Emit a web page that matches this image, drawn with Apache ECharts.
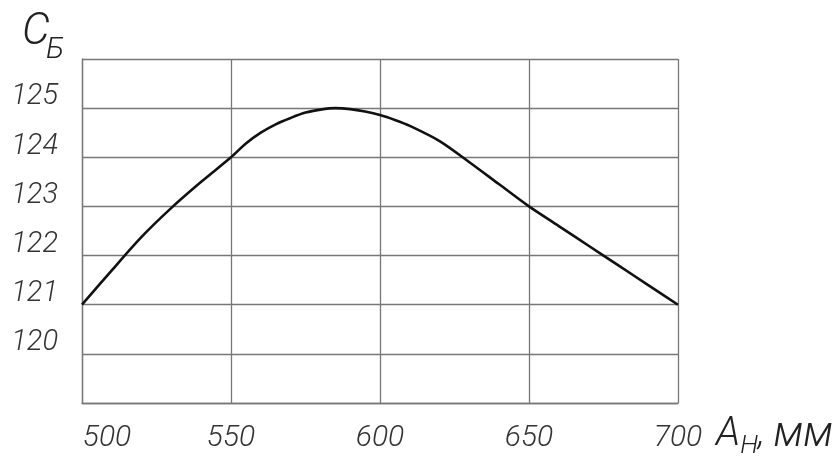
<!DOCTYPE html>
<html>
<head>
<meta charset="utf-8">
<script src="https://cdn.jsdelivr.net/npm/echarts@6/dist/echarts.min.js"></script>
<style>
html,body{margin:0;padding:0;background:#fff;}
#chart{width:832px;height:461px;}
</style>
</head>
<body>
<div id="chart"></div>
<script>
// Data
var xValues = [500,510,520,530,540,550,555,560,565,570,575,580,585,590,595,600,605,610,620,630,640,650,660,670,680,690,700];
var yValues = [121,121.7,122.38,122.97,123.5,124.0,124.28,124.5,124.67,124.8,124.91,124.97,125,124.98,124.93,124.86,124.76,124.64,124.33,123.9,123.45,123.0,122.6,122.2,121.8,121.4,121.0];
var xTicks = [500,550,600,650,700];
var yTicks = [120,121,122,123,124,125];

var FONT = 'Roboto';
var FW = 300;
var chart = echarts.init(document.getElementById('chart'), null, {renderer:'canvas'});
var seriesData = xValues.map(function(x,i){return [x, yValues[i]];});

chart.setOption({
  backgroundColor:'#fff',
  animation:false,
  title:[
    {left:17, top:6, text:'C',
     textStyle:{fontFamily:FONT,fontStyle:'italic',fontWeight:FW,fontSize:44,color:'#222'}},
    {left:41, top:30, text:'Б',
     textStyle:{fontFamily:FONT,fontStyle:'italic',fontWeight:FW,fontSize:30,color:'#222'}}
  ],
  grid:{left:82,right:154,top:59,bottom:58,containLabel:false,outerBoundsMode:'none'},
  xAxis:{
    type:'value', min:500, max:700, interval:50,
    axisLine:{show:true,lineStyle:{color:'#777',width:1.3}},
    axisTick:{show:false},
    splitLine:{show:true,lineStyle:{color:'#777',width:1.3}},
    axisLabel:{
      margin:20,
      fontFamily:FONT,fontStyle:'italic',fontWeight:FW,fontSize:30,color:'#333',
      formatter:function(v){ return xTicks.indexOf(v)>=0 ? (v===500?'{f|'+v+'}':'{n|'+v+'}') : ''; },
      rich:{
        f:{fontFamily:FONT,fontStyle:'italic',fontWeight:FW,fontSize:30,color:'#333',padding:[0,0,0,50]},
        n:{fontFamily:FONT,fontStyle:'italic',fontWeight:FW,fontSize:30,color:'#333'}
      }
    },
    name:'{a|A}{h|Н}{m|, }{mm|мм}',
    nameLocation:'end',
    nameGap:38,
    nameTextStyle:{
      verticalAlign:'top',
      padding:[8,0,0,0],
      rich:{
        a:{fontFamily:FONT,fontStyle:'italic',fontWeight:FW,fontSize:40,color:'#222'},
        h:{fontFamily:FONT,fontStyle:'italic',fontWeight:FW,fontSize:26,color:'#222',padding:[22,0,0,0]},
        m:{fontFamily:FONT,fontStyle:'italic',fontWeight:FW,fontSize:36,color:'#222'},
        mm:{fontFamily:FONT,fontStyle:'italic',fontWeight:FW,fontSize:42,color:'#222'}
      }
    }
  },
  yAxis:{
    type:'value', min:119, max:126, interval:1,
    axisLine:{show:true,lineStyle:{color:'#777',width:1.3}},
    axisTick:{show:false},
    splitLine:{show:true,lineStyle:{color:'#777',width:1.3}},
    axisLabel:{
      margin:24,
      fontFamily:FONT,fontStyle:'italic',fontWeight:FW,fontSize:29,color:'#333',
      verticalAlign:'bottom',
      lineHeight:22,
      formatter:function(v){ return yTicks.indexOf(v)>=0 ? String(v) : ''; }
    }
  },
  series:[{
    type:'line',
    data:seriesData,
    smooth:0.3,
    showSymbol:false,
    symbol:'none',
    lineStyle:{color:'#111',width:2.6},
    clip:false
  }]
});
</script>
</body>
</html>
